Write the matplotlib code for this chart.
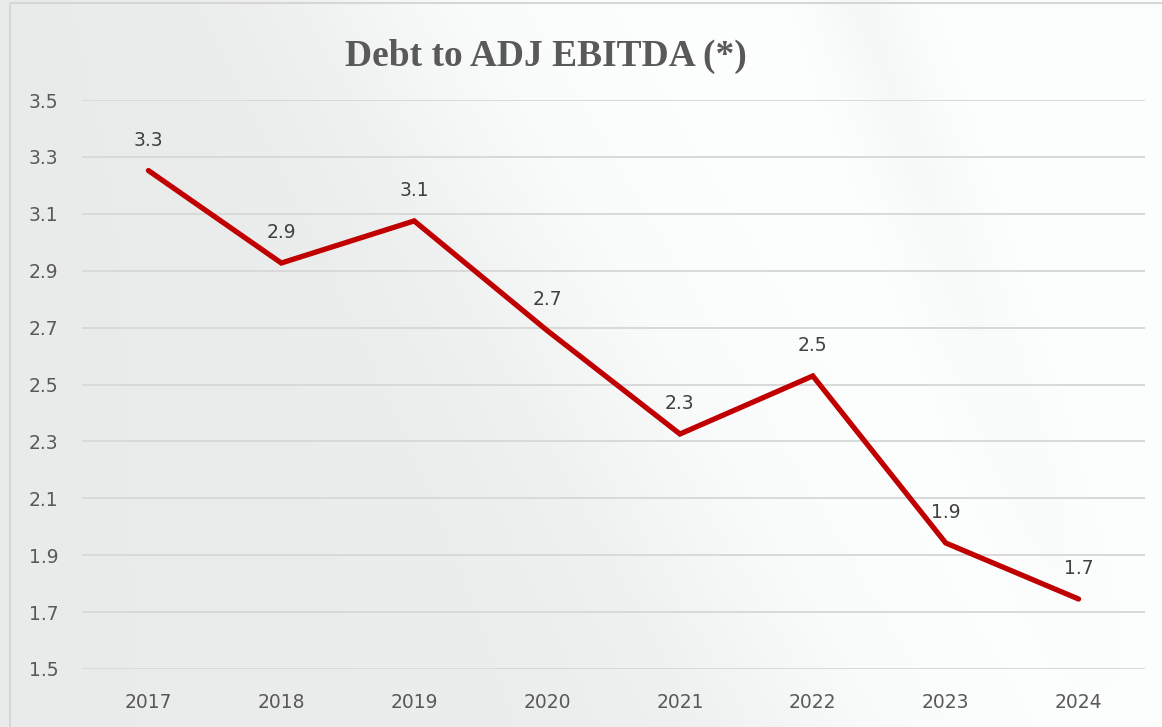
import numpy as np
import matplotlib.pyplot as plt
from matplotlib.patches import Rectangle

# Debt to adjusted EBITDA, by year
years = ['2017', '2018', '2019', '2020', '2021', '2022', '2023', '2024']
ratio = [3.252, 2.927, 3.075, 2.69, 2.326, 2.53, 1.943, 1.746]
y_ticks = [1.5, 1.7, 1.9, 2.1, 2.3, 2.5, 2.7, 2.9, 3.1, 3.3, 3.5]

W, H = 1162, 727
fig = plt.figure(figsize=(W / 100, H / 100), dpi=100)

# soft grey backdrop with a lighter diagonal sweep
yy, xx = np.mgrid[0:H, 0:W].astype(float)
base = 0.92 + 0.02 * (xx / W)
d1 = xx - (360 + 0.60 * yy)
sweep = 1 / (1 + np.exp(-d1 / 70))
d2 = xx - (860 + 0.35 * yy)
band = np.exp(-(d2 / 45) ** 2)
lvl = base + (0.995 - base) * sweep - 0.025 * band * (1 - yy / H)
lvl = np.clip(lvl, 0, 1)
bg = np.dstack([lvl * 0.995, lvl, lvl])
bgax = fig.add_axes([0, 0, 1, 1], zorder=-10)
bgax.imshow(np.clip(bg, 0, 1), aspect='auto', extent=[0, W, H, 0])
bgax.add_patch(Rectangle((10, 3), W, H, fill=False, ec='#d6d6d6', lw=1.5))
bgax.set_xlim(0, W)
bgax.set_ylim(H, 0)
bgax.axis('off')

ax = fig.add_axes([82 / W, 1 - 669 / H, (1145 - 82) / W, (669 - 100) / H])
ax.patch.set_alpha(0)
x = np.arange(len(years))
ax.plot(x, ratio, color='#C00000', lw=3.8, solid_capstyle='round',
        solid_joinstyle='miter', zorder=3)

for xi, v in zip(x, ratio):
    ax.annotate(f'{v:.1f}', (xi, v), xytext=(0, 22), textcoords='offset points',
                ha='center', va='center', fontsize=13.5, color='#404040',
                family='DejaVu Sans')

ax.set_xlim(-0.5, len(years) - 0.5)
ax.set_ylim(1.5, 3.5)
ax.set_xticks(x)
ax.set_xticklabels(years)
ax.set_yticks(y_ticks)
ax.set_yticklabels([f'{t:.1f}' for t in y_ticks])
ax.grid(axis='y', color='#d9d9d9', lw=1.4)
ax.set_axisbelow(True)
for s in ax.spines.values():
    s.set_visible(False)
ax.tick_params(length=0, labelsize=13.5, labelcolor='#595959')
ax.tick_params(axis='y', pad=17)
ax.tick_params(axis='x', pad=17)

fig.text(546 / W, 1 - 56 / H, 'Debt to ADJ EBITDA (*)', ha='center', va='center',
         fontsize=27, fontweight='bold', color='#595959', family='Liberation Serif')

fig.savefig('out.png', dpi=100)
